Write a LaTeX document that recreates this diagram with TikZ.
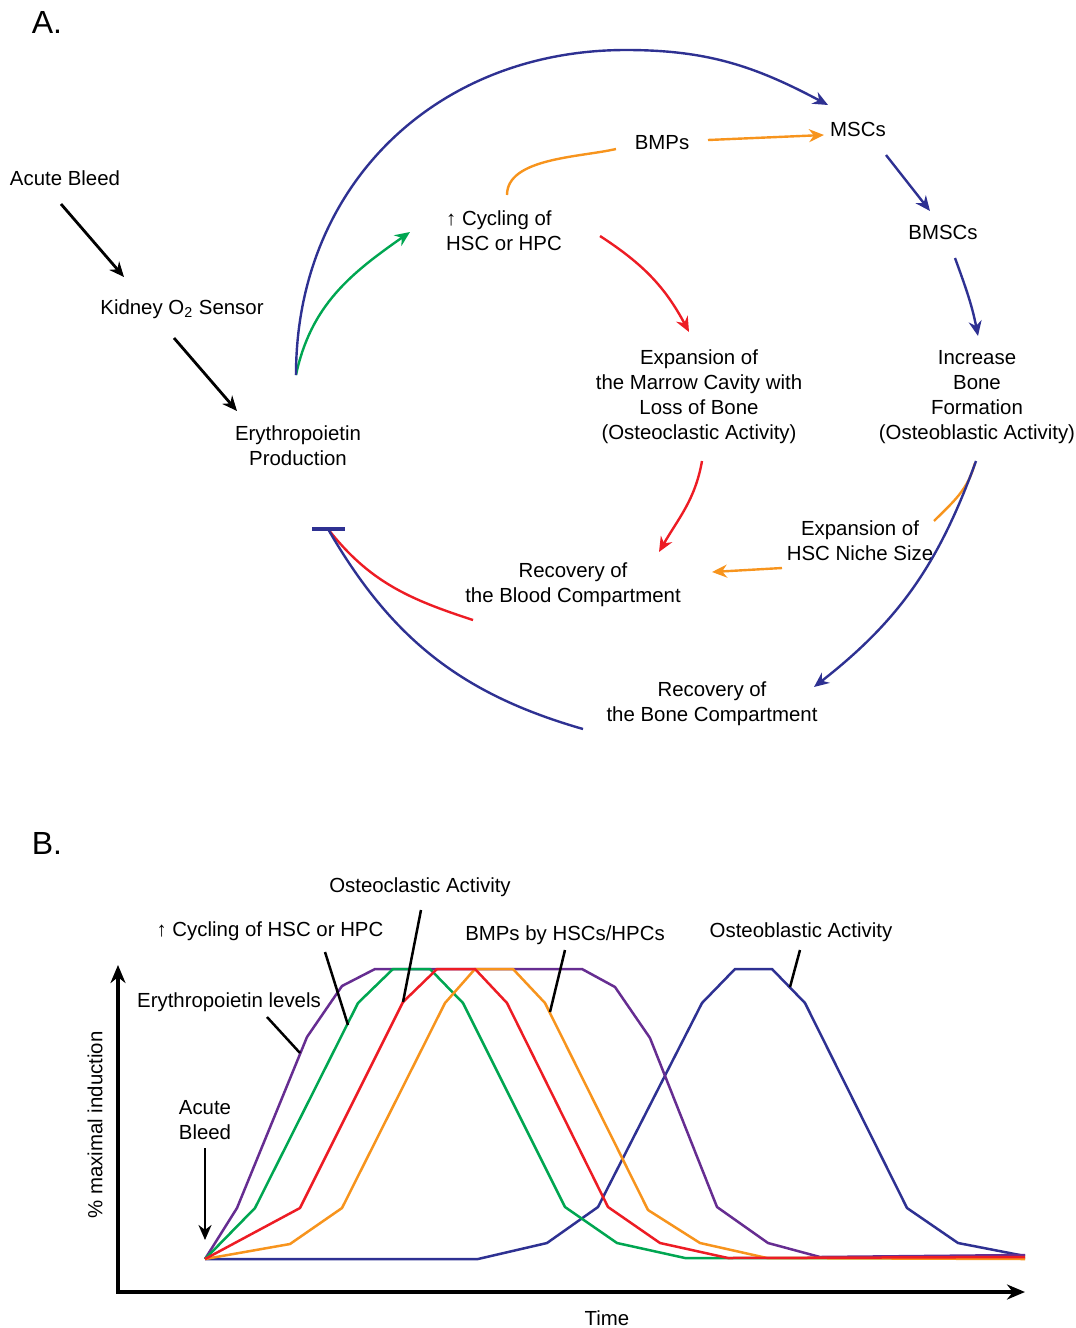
\documentclass[tikz,border=0pt]{standalone}
\usepackage{fontspec}
\setmainfont{Liberation Sans}
\usetikzlibrary{arrows.meta,calc}

\definecolor{navy}{HTML}{2E3192}
\definecolor{redA}{HTML}{ED1C24}
\definecolor{orangeA}{HTML}{F7941D}
\definecolor{greenA}{HTML}{00A651}
\definecolor{purpleA}{HTML}{662D91}

\begin{document}
\begin{tikzpicture}[x=0.5pt,y=0.5pt,
      lbl/.style={inner sep=0pt,align=center,
                  font=\fontsize{10.2}{12.5}\selectfont},
      panel/.style={inner sep=0pt,font=\fontsize{16}{19}\selectfont},
      arr/.style={-{Stealth[length=7.5pt,width=6.5pt]},line width=1.2pt},
      blk/.style={-{Stealth[length=7.5pt,width=6.5pt]},line width=1.4pt},
      link/.style={line width=1.2pt},
      trace/.style={line width=1.25pt,line join=round},
      lead/.style={line width=1.25pt},
      axis/.style={{Stealth[length=9pt,width=7.5pt]}-{Stealth[length=9pt,width=7.5pt]},
                   line width=1.6pt}]
    \useasboundingbox (0,0) rectangle (1076,-1328);

    \node[panel] (panA) at (47,-22) {A.};
    \node[lbl] (bleed) at (65,-178) {Acute Bleed};
    \node[lbl] (kidney) at (182,-309) {Kidney O\textsubscript{2} Sensor};
    \node[lbl] (epo) at (298,-446) {Erythropoietin\\Production};
    \node[lbl,align=left] (cyc) at (504,-231) {↑ Cycling of\\HSC or HPC};
    \node[lbl] (bmp) at (662,-143) {BMPs};
    \node[lbl] (msc) at (858,-129) {MSCs};
    \node[lbl] (bmsc) at (943,-232) {BMSCs};
    \node[lbl] (marrow) at (699,-397) {Expansion of\\the Marrow Cavity with\\Loss of Bone\\(Osteoclastic Activity)};
    \node[lbl] (bonef) at (977,-397) {Increase\\Bone\\Formation\\(Osteoblastic Activity)};
    \node[lbl] (niche) at (860,-541) {Expansion of\\HSC Niche Size};
    \node[lbl] (blood) at (573,-585) {Recovery of\\the Blood Compartment};
    \node[lbl] (bonec) at (712,-704) {Recovery of\\the Bone Compartment};
    \coordinate (src) at ($(epo)+(-2,71)$);
    \coordinate (arctop) at (626,-50);
    \coordinate (tbar) at (328,-529);

    \draw[blk] ($(bleed)+(-4,-26)$) -- ($(kidney)+(-58,32)$);
    \draw[blk] ($(kidney)+(-8,-29)$) -- ($(epo)+(-61,35)$);
    \draw[arr,greenA] (src) to[out=78,in=215] ($(cyc)+(-94,-1)$);
    \draw[arr,navy] (src) to[out=90,in=180,looseness=1.05] (arctop)
        to[out=0,in=152] ($(msc)+(-30,24)$);
    \draw[link,orangeA] ($(cyc)+(3,36)$) to[out=90,in=193,looseness=0.8] ($(bmp)+(-46,-6)$);
    \draw[arr,orangeA] ($(bmp)+(46,3)$) -- ($(msc)+(-34,-6)$);
    \draw[arr,navy] ($(msc)+(28,-26)$) -- ($(bmsc)+(-13,21)$);
    \draw[arr,navy] ($(bmsc)+(12,-26)$) to[out=-70,in=101] ($(bonef)+(1,61)$);
    \draw[arr,redA] ($(cyc)+(96,-5)$) to[out=-33,in=118] ($(marrow)+(-10,65)$);
    \draw[arr,redA] ($(marrow)+(3,-64)$) to[out=-100,in=60] ($(blood)+(86,33)$);
    \draw[link,orangeA] ($(bonef)+(-2,-66)$) to[out=-105,in=45] ($(niche)+(74,20)$);
    \draw[arr,navy] ($(bonef)+(-1,-64)$) to[out=-110,in=38] ($(bonec)+(102,17)$);
    \draw[arr,orangeA] ($(niche)+(-78,-27)$) -- ($(blood)+(139,13)$);
    \draw[link,redA] ($(blood)+(-100,-35)$) to[out=162,in=-52] (tbar);
    \draw[link,navy] ($(bonec)+(-129,-25)$) to[out=164,in=-60] (tbar);
    \draw[navy,line width=1.8pt] ($(tbar)+(-16,0)$) -- ($(tbar)+(17,0)$);

    \node[panel] (panB) at (47,-843) {B.};
    \draw[axis] (118,-965) -- (118,-1292) -- (1025,-1292);
    \node[lbl,rotate=90] (ylab) at (95,-1125) {\% maximal induction};
    \node[lbl] (tlab) at (607,-1318) {Time};
    \node[lbl] (acb) at (205,-1120) {Acute\\Bleed};
    \coordinate (t0) at (205,-1259);
    \draw[blk] ($(acb)+(0,-28)$) -- ($(t0)+(0,19)$);

    \draw[trace,navy] (t0) -- (478,-1259) -- (547,-1243) -- (598,-1207) -- (702,-1003)
        -- (735,-969) -- (772,-969) -- (805,-1003) -- (907,-1208) -- (958,-1243) -- (1025,-1256);
    \draw[trace,purpleA] (t0) -- (237,-1208) -- (307,-1037) -- (342,-986) -- (375,-969)
        -- (582,-969) -- (615,-987) -- (650,-1038) -- (717,-1207) -- (768,-1243)
        -- (820,-1257) -- (1025,-1255);
    \draw[trace,greenA] (t0) -- (255,-1208) -- (358,-1003) -- (393,-969) -- (430,-969)
        -- (463,-1003) -- (565,-1207) -- (617,-1243) -- (685,-1258) -- (1025,-1258);
    \draw[trace,orangeA] (t0) -- (290,-1244) -- (342,-1208) -- (445,-1003) -- (475,-969)
        -- (513,-969) -- (545,-1003) -- (648,-1210) -- (700,-1243) -- (767,-1258) -- (1025,-1259);
    \draw[trace,redA] (t0) -- (300,-1208) -- (403,-1002) -- (437,-969) -- (475,-969)
        -- (507,-1003) -- (608,-1207) -- (660,-1243) -- (728,-1258) -- (1025,-1257);

    \node[lbl] (cycB) at (270,-931) {↑ Cycling of HSC or HPC};
    \node[lbl] (epoB) at (229,-1002) {Erythropoietin levels};
    \node[lbl] (oclB) at (420,-887) {Osteoclastic Activity};
    \node[lbl] (bmpB) at (565,-935) {BMPs by HSCs/HPCs};
    \node[lbl] (oblB) at (801,-932) {Osteoblastic Activity};
    \draw[lead] ($(cycB)+(55,-21)$) -- ($(cycB)+(78,-94)$);
    \draw[lead] ($(epoB)+(38,-15)$) -- ($(epoB)+(71,-51)$);
    \draw[lead] ($(oclB)+(1,-23)$) -- ($(oclB)+(-17,-115)$);
    \draw[lead] ($(bmpB)+(0,-15)$) -- ($(bmpB)+(-15,-77)$);
    \draw[lead] ($(oblB)+(-1,-18)$) -- ($(oblB)+(-11,-55)$);
  \end{tikzpicture}
\end{document}
